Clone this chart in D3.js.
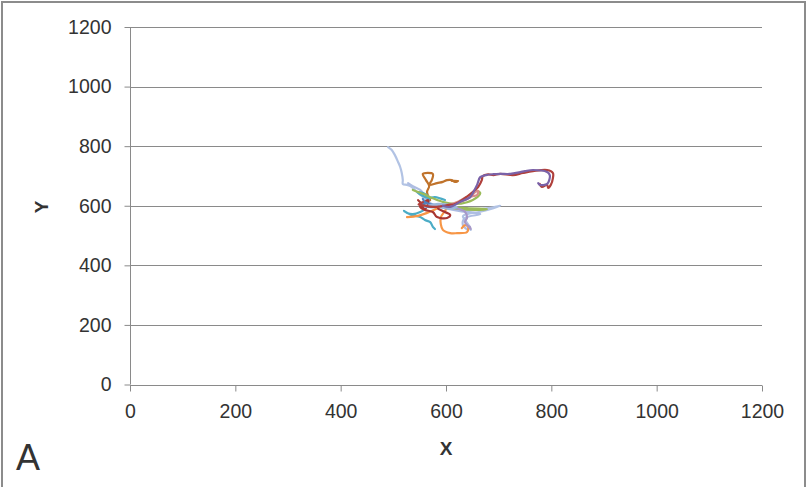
<!DOCTYPE html>
<html>
<head>
<meta charset="utf-8">
<script src="https://cdn.jsdelivr.net/npm/d3@7"></script>
<style>
  html, body { margin: 0; padding: 0; background: #fff; }
  svg { display: block; }
  text { font-family: "Liberation Sans", "Noto Sans", Arial, sans-serif; fill: #333; }
</style>
</head>
<body>
<svg id="chart" width="809" height="487"></svg>
<script>
// Axis ticks
const xTicks = [0, 200, 400, 600, 800, 1000, 1200];
const yTicks = [0, 200, 400, 600, 800, 1000, 1200];

// Track paths, each a list of [x, y] positions
const trackPaleBlue = [[490,797],[497,787],[503,770],[509,747],[513,730],[516,710],[518,686],[518,673],[526,670],[532,666],[537,660],[545,646],[556,630],[570,609],[582,600],[600,592],[620,589],[645,584],[670,590],[690,595],[703,600],[690,592],[665,580],[640,572],[632,565],[638,548],[644,532],[647,519]];
const trackRed = [[556,612],[548,605],[560,600],[575,596],[590,598],[605,603],[617,606],[636,626],[655,653],[661,663],[668,686],[670,700],[680,705],[690,703],[703,707],[727,703],[746,710],[765,716],[792,720],[803,710],[803,693],[799,670],[794,660],[792,670],[782,663],[778,673]];
const trackPurple = [[594,600],[608,596],[627,613],[646,629],[651,643],[659,670],[665,696],[676,703],[690,706],[703,707],[722,707],[741,713],[750,716],[765,720],[792,713],[797,703],[796,686],[792,673],[778,670],[775,676]];
const trackBrown = [[570,619],[564,646],[568,666],[562,686],[556,707],[575,707],[573,686],[568,670],[583,676],[594,680],[602,686],[611,686],[617,680],[623,683],[611,683]];
const trackGreen = [[537,653],[556,640],[575,625],[595,612],[615,606],[640,612],[660,630],[665,643],[659,650],[650,640],[640,630],[625,612],[613,598],[640,592],[678,589],[660,586],[620,590],[600,596]];
const trackTeal = [[598,619],[579,629],[566,626],[553,636],[545,646],[560,640],[568,625],[564,612],[554,598],[560,590],[551,579],[537,572],[526,576],[520,583],[533,570],[551,562],[560,552],[570,545],[575,529],[579,522]];
const trackOrange = [[526,562],[547,566],[564,576],[580,588],[594,600],[600,590],[590,560],[594,519],[608,508],[621,508],[640,512],[642,529],[636,535],[630,525]];
const trackDarkRed = [[547,619],[554,609],[566,619],[562,592],[551,599],[551,596],[560,586],[575,579],[583,562],[602,559],[608,569],[598,579],[585,590]];
const trackSalmon = [[590,600],[610,605],[630,615],[646,629],[655,646],[661,650],[659,636],[640,629],[620,612],[600,600]];
const trackBlue = [[556,623],[560,612],[570,605],[585,600],[575,595],[560,600],[556,610]];
const trackLavender = [[600,600],[620,592],[636,580],[640,560],[636,545],[642,532],[647,522],[645,530]];
const trackSky = [[560,596],[575,603],[590,596],[605,590],[620,596],[605,603],[585,606],[570,600]];
const trackLilac = [[528,676],[537,666],[551,653],[562,629],[573,602],[598,592],[627,582],[665,572],[636,559],[632,535],[642,519]];

const tracks = [
  { points: trackPaleBlue, color: "#b2c3e4" },
  { points: trackLilac,    color: "#aebde2" },
  { points: trackBrown,    color: "#c0732b" },
  { points: trackTeal,     color: "#4bacc6" },
  { points: trackOrange,   color: "#f79646" },
  { points: trackDarkRed,  color: "#a83632" },
  { points: trackGreen,    color: "#9bbb59" },
  { points: trackSalmon,   color: "#d98c8a" },
  { points: trackBlue,     color: "#4f81bd" },
  { points: trackLavender, color: "#a898c8" },
  { points: trackSky,      color: "#9cb8dc" },
  { points: trackRed,      color: "#b0403c" },
  { points: trackPurple,   color: "#7a62a8" }
];

const svg = d3.select("#chart");

// Outer frame
svg.append("rect")
  .attr("x", 2).attr("y", 2).attr("width", 803).attr("height", 490)
  .attr("fill", "none").attr("stroke", "#8c8c8c").attr("stroke-width", 2);

const plotLeft = 130, plotRight = 762, plotTop = 27, plotBottom = 384.5;
const x = d3.scaleLinear().domain([0, 1200]).range([plotLeft, plotRight]);
const y = d3.scaleLinear().domain([0, 1200]).range([plotBottom, plotTop]);

// Horizontal gridlines
svg.append("g")
  .selectAll("line")
  .data(yTicks.filter(d => d > 0))
  .join("line")
  .attr("x1", plotLeft).attr("x2", plotRight)
  .attr("y1", d => Math.round(y(d)) + 0.5).attr("y2", d => Math.round(y(d)) + 0.5)
  .attr("stroke", "#8a8a8a").attr("stroke-width", 1);

// Y axis
const yAxis = svg.append("g")
  .attr("transform", `translate(${plotLeft + 0.5},0)`)
  .call(d3.axisLeft(y).tickValues(yTicks).tickSize(6).tickPadding(13).tickFormat(d3.format("d")));
yAxis.select(".domain").attr("stroke", "#8a8a8a").attr("d", `M0,${plotTop}V${plotBottom}`);
yAxis.selectAll(".tick line").attr("stroke", "#8a8a8a");
yAxis.selectAll(".tick text").attr("font-size", 19.5).attr("fill", "#2a2a2a")
  .attr("font-family", "Liberation Sans, Arial, sans-serif");

// X axis
const xAxis = svg.append("g")
  .attr("transform", `translate(0,${Math.round(plotBottom) + 0.5})`)
  .call(d3.axisBottom(x).tickValues(xTicks).tickSize(6).tickPadding(13).tickFormat(d3.format("d")));
xAxis.select(".domain").attr("stroke", "#8a8a8a").attr("d", `M${plotLeft},0H${plotRight}`);
xAxis.selectAll(".tick line").attr("stroke", "#8a8a8a");
xAxis.selectAll(".tick text").attr("font-size", 19.5).attr("fill", "#2a2a2a")
  .attr("font-family", "Liberation Sans, Arial, sans-serif");

// Trajectories
const line = d3.line()
  .x(d => x(d[0]))
  .y(d => y(d[1]))
  .curve(d3.curveCatmullRom.alpha(0.5));

svg.append("g")
  .selectAll("path")
  .data(tracks)
  .join("path")
  .attr("d", d => line(d.points))
  .attr("fill", "none")
  .attr("stroke", d => d.color)
  .attr("stroke-width", 2.2)
  .attr("stroke-linejoin", "round")
  .attr("stroke-linecap", "round");

// Axis titles
svg.append("text")
  .attr("x", 446).attr("y", 455)
  .attr("text-anchor", "middle")
  .attr("font-size", 19).attr("font-weight", "bold").attr("fill", "#1a1a1a")
  .text("X");

svg.append("text")
  .attr("transform", "translate(48,207) rotate(-90)")
  .attr("text-anchor", "middle")
  .attr("font-size", 19).attr("font-weight", "bold").attr("fill", "#1a1a1a")
  .text("Y");

// Panel letter
svg.append("text")
  .attr("x", 16).attr("y", 470)
  .attr("font-size", 36).attr("fill", "#111")
  .text("A");
</script>
</body>
</html>
